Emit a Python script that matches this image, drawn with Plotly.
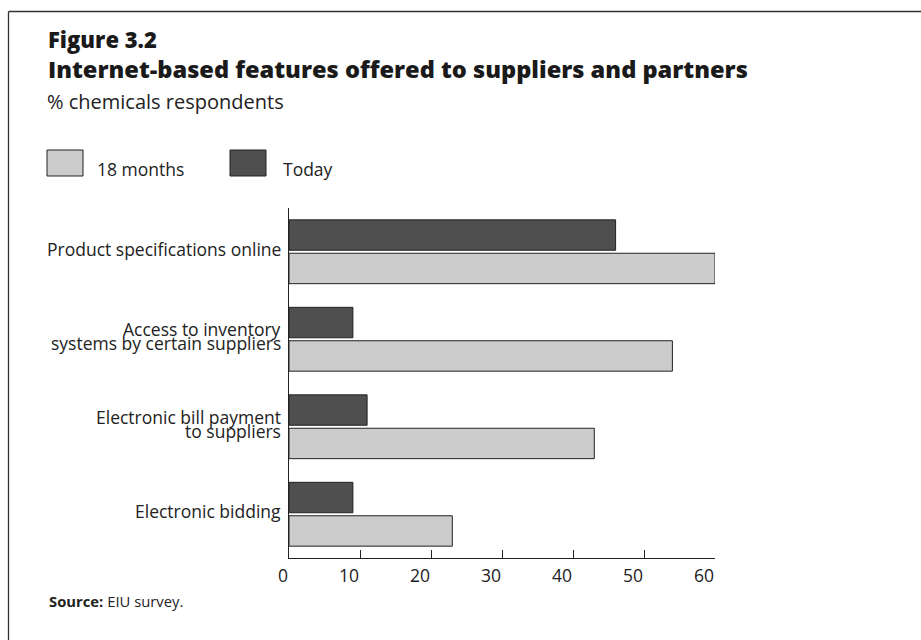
import plotly.graph_objects as go

# Survey results: share of chemicals respondents offering each feature
categories = [
    "Product specifications online",
    "Access to inventory\nsystems by certain suppliers",
    "Electronic bill payment\nto suppliers",
    "Electronic bidding",
]
today = [46, 9, 11, 9]
months_18 = [60, 54, 43, 23]
x_ticks = [0, 10, 20, 30, 40, 50, 60]

DARK = "#4f4f4f"
LIGHT = "#cccccc"
EDGE = "#222222"
FONT = "Open Sans"
LABEL_SIZE = 17.5
LINE_GAP = 14

W, H = 921, 640
L, R, T, B = 289, 206, 208, 82
PW, PH = W - L - R, H - T - B


def px(x):
    return (x - L) / PW


def py(y):
    return (H - B - y) / PH


fig = go.Figure()
fig.add_trace(go.Bar(
    y=categories, x=today, orientation="h", name="Today",
    marker=dict(color=DARK, line=dict(color=EDGE, width=1)),
    showlegend=False,
))
fig.add_trace(go.Bar(
    y=categories, x=months_18, orientation="h", name="18 months",
    marker=dict(color=LIGHT, line=dict(color=EDGE, width=1)),
    showlegend=False,
))

annotations = []
# Category labels, one annotation per line so the lines sit tightly together
for cat in categories:
    lines = cat.split("\n")
    n = len(lines)
    for i, line in enumerate(lines):
        shift = 3 + ((n - 1) / 2 - i) * LINE_GAP
        annotations.append(dict(
            text=line, x=0, xref="paper", xanchor="right", xshift=-6,
            y=cat, yref="y", yanchor="middle", yshift=shift,
            showarrow=False, align="right",
            font=dict(family=FONT, size=LABEL_SIZE, color="#222222"),
        ))

# Titles, legend text and source note
annotations += [
    dict(text="Figure 3.2", x=px(46), y=py(56), xref="paper", yref="paper",
         xanchor="left", yanchor="bottom", showarrow=False,
         font=dict(family=FONT, size=22, weight=800, color="#1a1a1a")),
    dict(text="Internet-based features offered to suppliers and partners",
         x=px(46), y=py(87), xref="paper", yref="paper",
         xanchor="left", yanchor="bottom", showarrow=False,
         font=dict(family=FONT, size=23.6, weight=800, color="#1a1a1a")),
    dict(text="% chemicals respondents", x=px(45), y=py(117), xref="paper", yref="paper",
         xanchor="left", yanchor="bottom", showarrow=False,
         font=dict(family=FONT, size=20, color="#222222")),
    dict(text="<b>Source:</b> EIU survey.", x=px(47), y=py(613), xref="paper", yref="paper",
         xanchor="left", yanchor="bottom", showarrow=False,
         font=dict(family=FONT, size=14.8, color="#222222")),
    dict(text="18 months", x=px(95), y=py(169), xref="paper", yref="paper",
         xanchor="left", yanchor="middle", showarrow=False,
         font=dict(family=FONT, size=LABEL_SIZE, color="#222222")),
    dict(text="Today", x=px(281), y=py(169), xref="paper", yref="paper",
         xanchor="left", yanchor="middle", showarrow=False,
         font=dict(family=FONT, size=LABEL_SIZE, color="#222222")),
]

shapes = [
    # legend swatches
    dict(type="rect", xref="paper", yref="paper", x0=px(47), x1=px(83),
         y0=py(176), y1=py(150), fillcolor=LIGHT, line=dict(color=EDGE, width=1)),
    dict(type="rect", xref="paper", yref="paper", x0=px(230), x1=px(266),
         y0=py(176), y1=py(150), fillcolor=DARK, line=dict(color=EDGE, width=1)),
    # outer frame (left and top edges)
    dict(type="line", xref="paper", yref="paper", x0=px(8.5), x1=px(8.5),
         y0=py(11.5), y1=py(660), line=dict(color="#333333", width=1.3)),
    dict(type="line", xref="paper", yref="paper", x0=px(8.5), x1=px(940),
         y0=py(11.5), y1=py(11.5), line=dict(color="#333333", width=1.3)),
]

fig.update_layout(
    width=W, height=H,
    margin=dict(l=L, r=R, t=T, b=B, pad=0),
    paper_bgcolor="white", plot_bgcolor="white",
    barmode="group", bargap=0.236, bargroupgap=0.09,
    annotations=annotations, shapes=shapes,
    font=dict(family=FONT, color="#222222"),
)
fig.update_xaxes(
    range=[0, 60], tickvals=x_ticks, ticks="inside", ticklen=8, tickwidth=1,
    tickcolor="#222222", showline=True, linecolor="#222222", linewidth=1,
    showgrid=False, zeroline=False,
    tickfont=dict(family=FONT, size=LABEL_SIZE, color="#222222"),
    ticklabelposition="outside left", ticklabelstandoff=2,
)
fig.update_yaxes(
    categoryorder="array", categoryarray=categories, autorange="reversed",
    range=[3.5, -0.5], showticklabels=False, ticks="", showline=True,
    linecolor="#222222", linewidth=1, showgrid=False, zeroline=False,
)

fig.write_html("out.html")
